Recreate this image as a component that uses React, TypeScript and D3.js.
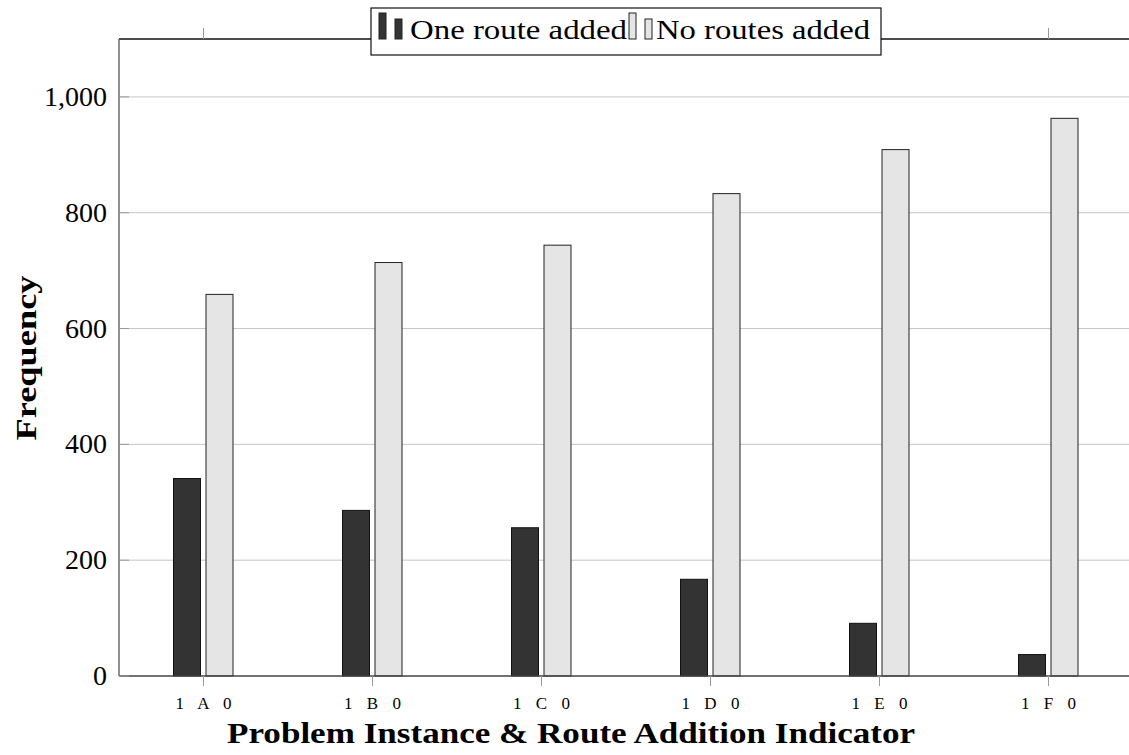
import React, { useEffect, useRef } from 'react';
import * as d3 from 'd3';

// categories and counts
const categories = ['1 A 0', '1 B 0', '1 C 0', '1 D 0', '1 E 0', '1 F 0'];
const oneRoute = [341, 286, 256, 167, 91, 37];
const noRoutes = [659, 714, 744, 833, 909, 963];
const yTicks = [0, 200, 400, 600, 800, 1000];

const FONT = '"Liberation Serif", "DejaVu Serif", serif';

const App = () => {
  const ref = useRef<SVGSVGElement | null>(null);

  useEffect(() => {
    const width = 1129;
    const left = 119;
    const right = 1133;
    const top = 39;
    const bottom = 676;

    const svg = d3.select(ref.current);
    svg.selectAll('*').remove();

    const x = d3.scaleBand<string>().domain(categories).range([left, right]).padding(0);
    const y = d3.scaleLinear().domain([0, 1100]).range([bottom, top]);
    const cx = (c: string) => (x(c) as number) + x.bandwidth() / 2;
    const barW = 27;

    // grid lines
    svg
      .append('g')
      .selectAll('line')
      .data(yTicks.filter(d => d > 0))
      .enter()
      .append('line')
      .attr('x1', left)
      .attr('x2', right)
      .attr('y1', d => y(d))
      .attr('y2', d => y(d))
      .attr('stroke', '#c6c6c6')
      .attr('stroke-width', 1);

    // bars: one route added (dark)
    svg
      .append('g')
      .selectAll('rect')
      .data(categories)
      .enter()
      .append('rect')
      .attr('x', c => cx(c) - 30)
      .attr('y', (c, i) => y(oneRoute[i]))
      .attr('width', barW)
      .attr('height', (c, i) => bottom - y(oneRoute[i]))
      .attr('fill', '#333333')
      .attr('stroke', '#111')
      .attr('stroke-width', 1);

    // bars: no routes added (light)
    svg
      .append('g')
      .selectAll('rect')
      .data(categories)
      .enter()
      .append('rect')
      .attr('x', c => cx(c) + 2.5)
      .attr('y', (c, i) => y(noRoutes[i]))
      .attr('width', barW)
      .attr('height', (c, i) => bottom - y(noRoutes[i]))
      .attr('fill', '#e5e5e5')
      .attr('stroke', '#222')
      .attr('stroke-width', 1);

    // axis frame
    svg.append('line').attr('x1', left).attr('x2', width).attr('y1', top).attr('y2', top).attr('stroke', '#111').attr('stroke-width', 1.3);
    svg.append('line').attr('x1', left).attr('x2', width).attr('y1', bottom).attr('y2', bottom).attr('stroke', '#444').attr('stroke-width', 1.3);
    svg.append('line').attr('x1', left).attr('x2', left).attr('y1', top).attr('y2', bottom).attr('stroke', '#555').attr('stroke-width', 1.3);

    // x ticks (bottom and top, outward)
    categories.forEach(c => {
      svg.append('line').attr('x1', cx(c)).attr('x2', cx(c)).attr('y1', bottom).attr('y2', bottom + 10).attr('stroke', '#999');
      svg.append('line').attr('x1', cx(c)).attr('x2', cx(c)).attr('y1', top - 11).attr('y2', top).attr('stroke', '#999');
    });

    // x tick labels
    svg
      .append('g')
      .selectAll('text')
      .data(categories)
      .enter()
      .append('text')
      .attr('x', c => cx(c))
      .attr('y', 709)
      .attr('text-anchor', 'middle')
      .style('font-family', FONT)
      .style('font-size', '17px')
      .style('word-spacing', '10px')
      .text(c => c);

    // y ticks + labels
    svg
      .append('g')
      .selectAll('line')
      .data(yTicks)
      .enter()
      .append('line')
      .attr('x1', left)
      .attr('x2', left + 10)
      .attr('y1', d => y(d))
      .attr('y2', d => y(d))
      .attr('stroke', '#999');

    svg
      .append('g')
      .selectAll('text')
      .data(yTicks)
      .enter()
      .append('text')
      .attr('x', 107)
      .attr('y', d => y(d) + 9)
      .attr('text-anchor', 'end')
      .style('font-family', FONT)
      .style('font-size', '28px')
      .text(d => d3.format(',')(d));

    // axis titles
    svg
      .append('text')
      .attr('x', 571)
      .attr('y', 743)
      .attr('text-anchor', 'middle')
      .attr('textLength', 688)
      .attr('lengthAdjust', 'spacingAndGlyphs')
      .style('font-family', FONT)
      .style('font-size', '29px')
      .style('font-weight', 'bold')
      .text('Problem Instance & Route Addition Indicator');

    svg
      .append('text')
      .attr('transform', 'rotate(-90)')
      .attr('x', -358)
      .attr('y', 36)
      .attr('text-anchor', 'middle')
      .attr('textLength', 165)
      .attr('lengthAdjust', 'spacingAndGlyphs')
      .style('font-family', FONT)
      .style('font-size', '29px')
      .style('font-weight', 'bold')
      .text('Frequency');

    // legend
    const legend = svg.append('g');
    legend
      .append('rect')
      .attr('x', 371)
      .attr('y', 8)
      .attr('width', 510)
      .attr('height', 47)
      .attr('fill', 'white')
      .attr('stroke', '#111')
      .attr('stroke-width', 1.2);

    const legendData = [
      { label: 'One route added', fill: '#333333', x: 379, tx: 410, len: 217 },
      { label: 'No routes added', fill: '#e5e5e5', x: 629, tx: 656, len: 214 }
    ];
    legendData.forEach(l => {
      legend.append('rect').attr('x', l.x).attr('y', 13).attr('width', 7).attr('height', 26).attr('fill', l.fill).attr('stroke', '#222');
      legend.append('rect').attr('x', l.x + 16).attr('y', 19).attr('width', 7).attr('height', 20).attr('fill', l.fill).attr('stroke', '#222');
      legend
        .append('text')
        .attr('x', l.tx)
        .attr('y', 39)
        .attr('textLength', l.len)
        .attr('lengthAdjust', 'spacingAndGlyphs')
        .style('font-family', FONT)
        .style('font-size', '28px')
        .text(l.label);
    });
  }, []);

  return (
    <svg
      ref={ref}
      width={1129}
      height={755}
      style={{ position: 'absolute', left: 0, top: 0, background: 'white' }}
    />
  );
};

export default App;
